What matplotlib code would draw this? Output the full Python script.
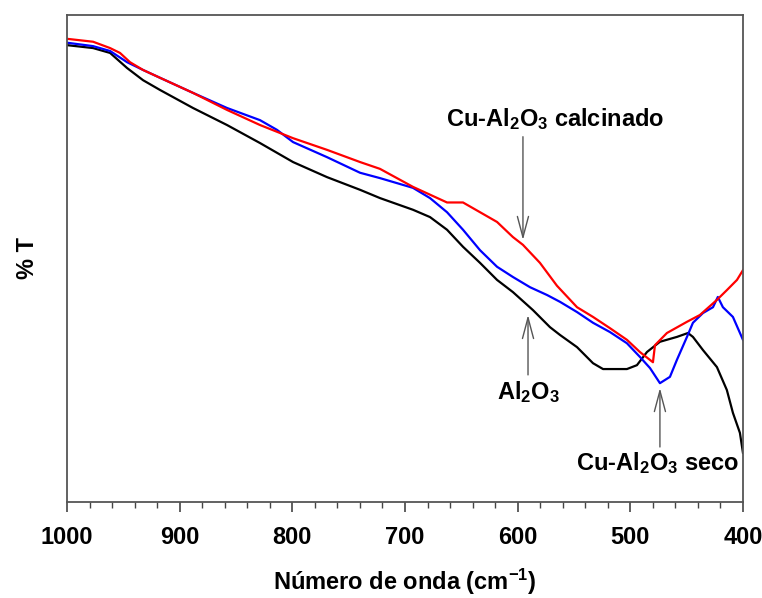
import numpy as np
import matplotlib
matplotlib.use("Agg")
import matplotlib.pyplot as plt

plt.rcParams['font.family'] = ['Liberation Sans', 'DejaVu Sans']
plt.rcParams['font.weight'] = 'bold'
plt.rcParams['mathtext.fontset'] = 'custom'
plt.rcParams['mathtext.rm'] = 'Liberation Sans:bold'
plt.rcParams['mathtext.default'] = 'rm'

# Al2O3
wn_al = [1000, 976.9, 961.8, 946.7, 932.5, 917.5, 888.2, 858.0, 828.7, 799.4, 769.2, 739.9,
         722.2, 692.9, 677.8, 662.7, 648.5, 633.4, 618.3, 604.2, 586.4, 571.3, 562.4, 547.3,
         533.1, 524.2, 503.0, 494.1, 485.2, 473.7, 458.6, 448.8, 444.4, 435.5, 423.1, 414.3,
         408.9, 402.7, 400]
t_al = [93.8, 93.2, 92.2, 89.1, 86.6, 84.6, 80.9, 77.4, 73.7, 69.8, 66.7, 64.1, 62.4, 60.0,
        58.5, 55.9, 52.4, 49.1, 45.6, 43.1, 39.4, 35.9, 34.3, 31.8, 28.5, 27.3, 27.3, 28.1,
        30.8, 32.9, 33.9, 34.7, 33.9, 31.2, 27.7, 23.0, 18.3, 14.2, 10.1]

# Cu-Al2O3 seco
wn_seco = [1000, 976.9, 961.8, 946.7, 932.5, 917.5, 888.2, 858.0, 828.7, 813.6, 799.4, 769.2,
           739.9, 722.2, 692.9, 677.8, 662.7, 648.5, 633.4, 618.3, 604.2, 589.0, 573.9, 562.4,
           547.3, 533.1, 518.1, 503.0, 491.5, 482.5, 473.7, 464.8, 458.6, 449.7, 444.4, 435.5,
           426.6, 422.3, 417.8, 408.9, 400]
t_seco = [94.3, 93.6, 92.6, 90.3, 88.7, 87.1, 84.0, 80.9, 78.4, 76.4, 73.9, 70.8, 67.6, 66.5,
          64.5, 62.4, 59.5, 55.9, 51.7, 48.3, 46.2, 44.1, 42.5, 41.1, 39.0, 36.8, 34.9, 32.6,
          29.8, 27.5, 24.4, 25.7, 29.2, 33.9, 36.8, 38.8, 40.0, 42.1, 40.0, 38.0, 33.3]

# Cu-Al2O3 calcinado
wn_calc = [1000, 976.9, 961.8, 953.0, 944.1, 932.5, 917.5, 888.2, 858.0, 828.7, 799.4, 769.2,
           739.9, 722.2, 692.9, 662.7, 648.5, 633.4, 618.3, 604.2, 595.3, 580.2, 565.1, 547.3,
           533.1, 518.1, 503.0, 491.5, 479.9, 478.1, 467.5, 449.7, 438.2, 423.1, 414.3, 405.3,
           400]
t_calc = [95.1, 94.5, 93.2, 92.2, 90.3, 88.7, 87.1, 84.0, 80.5, 77.4, 74.7, 72.3, 69.8, 68.4,
          64.7, 61.5, 61.5, 59.5, 57.5, 54.4, 52.8, 49.1, 44.4, 40.0, 38.0, 35.7, 33.3, 30.8,
          28.7, 32.2, 34.7, 37.0, 38.4, 41.5, 43.5, 45.6, 47.6]

fig = plt.figure(figsize=(7.62, 5.98), dpi=100)
ax = fig.add_axes([0.088, 0.1605, 0.887, 0.8145])

ax.plot(wn_al, t_al, color='black', lw=1.6)
ax.plot(wn_seco, t_seco, color='blue', lw=1.6)
ax.plot(wn_calc, t_calc, color='red', lw=1.6)

ax.set_xlim(1000, 400)
ax.set_ylim(0, 100)
ax.set_yticks([])
ax.set_xticks(np.arange(1000, 399, -100))
ax.set_xticks(np.arange(1000, 399, -20), minor=True)
ax.tick_params(axis='x', which='major', direction='out', length=7, width=1.2,
               labelsize=17, pad=10, color='#444444')
ax.tick_params(axis='x', which='minor', direction='out', length=4, width=1.0, color='#444444')
for s in ax.spines.values():
    s.set_color('#555555')
    s.set_linewidth(1.3)

ax.set_xlabel(r'Número de onda (cm$^{-1}$)', fontsize=17, fontweight='bold', labelpad=13)
ax.set_ylabel('% T', fontsize=17, fontweight='bold', labelpad=20)

arrow = dict(arrowstyle='->, head_length=0.75, head_width=0.2', color='#555555', lw=1.0,
             mutation_scale=20, shrinkA=0, shrinkB=0)

# Cu-Al2O3 calcinado
ax.annotate('', xy=(595.3, 53.8), xytext=(595.3, 75.0), arrowprops=arrow)
ax.text(567, 76.0, r'Cu-Al$_2$O$_3$ calcinado', ha='center', va='bottom', fontsize=17)
# Al2O3
ax.annotate('', xy=(590.8, 38.4), xytext=(590.8, 26.1), arrowprops=arrow)
ax.text(590.8, 25.3, r'Al$_2$O$_3$', ha='center', va='top', fontsize=17)
# Cu-Al2O3 seco
ax.annotate('', xy=(473.7, 23.4), xytext=(473.7, 11.3), arrowprops=arrow)
ax.text(476, 10.6, r'Cu-Al$_2$O$_3$ seco', ha='center', va='top', fontsize=17)

fig.savefig('out.png', dpi=100)
